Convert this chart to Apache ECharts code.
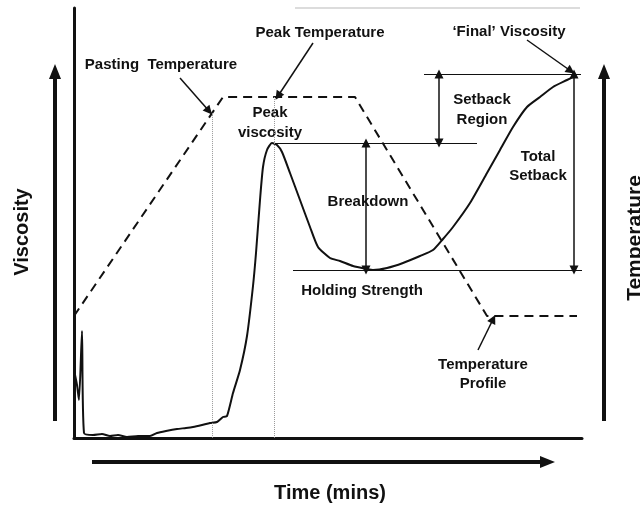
<!DOCTYPE html>
<html>
<head>
<meta charset="utf-8">
<script src="https://cdn.jsdelivr.net/npm/echarts@6/dist/echarts.min.js"></script>
<style>
html,body{margin:0;padding:0;background:#fff;}
#main{width:640px;height:506px;}
</style>
</head>
<body>
<div id="main"></div>
<script>
// ---- data (time in minutes, viscosity in cP, temperature in °C) ----
const timeMin = [0, 0.075, 0.125, 0.2, 0.25, 0.475, 0.7, 0.9, 1.1, 1.325, 1.6, 1.9, 2.075, 2.3, 2.575, 2.8, 2.975, 3.2, 3.4, 3.575, 3.725, 3.825, 3.975, 4.15, 4.325, 4.475, 4.55, 4.65, 4.725, 4.825, 4.95, 5.075, 5.2, 5.4, 5.65, 5.9, 6.1, 6.4, 6.65, 6.975, 7.325, 7.475, 7.825, 8.225, 8.65, 8.975, 9.225, 9.475, 9.9, 10.325, 10.65, 10.975, 11.325, 11.65, 11.975, 12.325, 12.475];
const viscosityCp = [680, 530, 380, 1070, 50, 30, 40, 20, 30, 10, 20, 20, 50, 70, 90, 100, 110, 130, 150, 160, 210, 220, 450, 680, 1020, 1520, 1850, 2380, 2710, 2880, 2950, 2930, 2860, 2650, 2380, 2110, 1910, 1800, 1770, 1720, 1690, 1680, 1700, 1750, 1820, 1880, 1990, 2110, 2350, 2650, 2880, 3110, 3310, 3410, 3510, 3580, 3610];
const tempTime = [0, 3.725, 7.025, 10.325, 12.575];
const tempC = [50, 95, 95, 50, 50];

const peakTime = 4.95, peakVisc = 2950;
const troughVisc = 1680;
const finalTime = 12.475, finalVisc = 3640;
const pastingTime = 3.45, pastingTemp = 91.7;
const peakTempTime = 5.0, peakTemp = 95;

const chart = echarts.init(document.getElementById('main'), null, {renderer: 'canvas'});
const FONT = 'Liberation Sans, Arial, sans-serif';

function seg(x1, y1, x2, y2, s1, s2, style) {
  return [
    {coord: [x1, y1], symbol: s1, symbolSize: 9, lineStyle: style},
    {coord: [x2, y2], symbol: s2, symbolSize: 9}
  ];
}
const thin = {color: '#111', width: 1, type: 'solid'};
const arrowStyle = {color: '#111', width: 1.5, type: 'solid'};
const dotted = {color: '#9a9a9a', width: 1, type: 'dotted'};

const annotations = [
  // reference lines
  seg(peakTime, peakVisc, 10.075, peakVisc, 'none', 'none', thin),
  seg(5.475, troughVisc, 12.7, troughVisc, 'none', 'none', thin),
  seg(8.75, finalVisc, 12.675, finalVisc, 'none', 'none', thin),
  // double arrows
  seg(9.125, finalVisc, 9.125, peakVisc, 'triangle', 'triangle', arrowStyle),
  seg(7.3, peakVisc, 7.3, troughVisc, 'triangle', 'triangle', arrowStyle),
  seg(12.5, troughVisc, 12.5, finalVisc, 'triangle', 'triangle', arrowStyle),
  // pointer arrows
  seg(2.65, 3600, 3.375, 3270, 'none', 'triangle', arrowStyle),
  seg(5.975, 3950, 5.1, 3420, 'none', 'triangle', arrowStyle),
  seg(11.325, 3980, 12.42, 3670, 'none', 'triangle', arrowStyle),
  seg(10.1, 880, 10.48, 1190, 'none', 'triangle', arrowStyle)
];

const text = (str, x, y, extra) => Object.assign({
  type: 'text', x: x, y: y, silent: true,
  style: {text: str, fill: '#111', font: 'bold 15px ' + FONT, align: 'center', verticalAlign: 'middle'}
}, extra || {});

chart.setOption({
  animation: false,
  backgroundColor: '#fff',
  grid: {left: 74, right: 58, top: 8, bottom: 68},
  xAxis: {
    type: 'value', min: 0, max: 12.7,
    axisLine: {show: true, lineStyle: {color: '#111', width: 3}},
    axisTick: {show: false}, axisLabel: {show: false}, splitLine: {show: false}
  },
  yAxis: [
    {type: 'value', min: 0, max: 4300,
     axisLine: {show: true, lineStyle: {color: '#111', width: 3}},
     axisTick: {show: false}, axisLabel: {show: false}, splitLine: {show: false}},
    {type: 'value', min: 24.93, max: 113.29, show: false, splitLine: {show: false}}
  ],
  series: [
    {
      type: 'line', name: 'Viscosity', clip: false,
      data: timeMin.map((t, i) => [t, viscosityCp[i]]),
      showSymbol: false, smooth: 0.2,
      lineStyle: {color: '#111', width: 2, join: 'round'},
      markLine: {silent: true, animation: false, label: {show: false}, data: annotations}
    },
    {
      type: 'line', name: 'Temperature', yAxisIndex: 1, clip: false,
      data: tempTime.map((t, i) => [t, tempC[i]]),
      showSymbol: false,
      lineStyle: {color: '#111', width: 2, type: [9, 6]},
      markLine: {silent: true, animation: false, label: {show: false},
        data: [
          seg(pastingTime, pastingTemp, pastingTime, 25, 'none', 'none', dotted),
          seg(peakTempTime, peakTemp, peakTempTime, 25, 'none', 'none', dotted)
        ]}
    }
  ],
  graphic: [
    {type: 'line', silent: true, shape: {x1: 295, y1: 8, x2: 580, y2: 8}, style: {stroke: '#dcdcdc', lineWidth: 2}},
    // outer arrows
    {type: 'line', silent: true, shape: {x1: 55, y1: 421, x2: 55, y2: 76}, style: {stroke: '#111', lineWidth: 4}},
    {type: 'polygon', silent: true, shape: {points: [[49, 79], [61, 79], [55, 64]]}, style: {fill: '#111'}},
    {type: 'line', silent: true, shape: {x1: 604, y1: 421, x2: 604, y2: 76}, style: {stroke: '#111', lineWidth: 4}},
    {type: 'polygon', silent: true, shape: {points: [[598, 79], [610, 79], [604, 64]]}, style: {fill: '#111'}},
    {type: 'line', silent: true, shape: {x1: 92, y1: 462, x2: 542, y2: 462}, style: {stroke: '#111', lineWidth: 4}},
    {type: 'polygon', silent: true, shape: {points: [[540, 456], [540, 468], [555, 462]]}, style: {fill: '#111'}},
    // axis titles
    text('Viscosity', 22, 232, {rotation: Math.PI / 2, style: {text: 'Viscosity', fill: '#111', font: 'bold 20px ' + FONT, align: 'center', verticalAlign: 'middle'}}),
    text('Temperature', 635, 238, {rotation: Math.PI / 2, style: {text: 'Temperature', fill: '#111', font: 'bold 21px ' + FONT, align: 'center', verticalAlign: 'middle'}}),
    text('Time (mins)', 330, 493, {style: {text: 'Time (mins)', fill: '#111', font: 'bold 20px ' + FONT, align: 'center', verticalAlign: 'middle'}}),
    // annotations
    text('Pasting  Temperature', 161, 65),
    text('Peak Temperature', 320, 33),
    text('Peak', 270, 113),
    text('viscosity', 270, 133),
    text('\u2018Final\u2019 Viscosity', 509, 32),
    text('Setback', 482, 100),
    text('Region', 482, 120),
    text('Total', 538, 157),
    text('Setback', 538, 176),
    text('Breakdown', 368, 202),
    text('Holding Strength', 362, 291),
    text('Temperature', 483, 365),
    text('Profile', 483, 384)
  ]
});
</script>
</body>
</html>
